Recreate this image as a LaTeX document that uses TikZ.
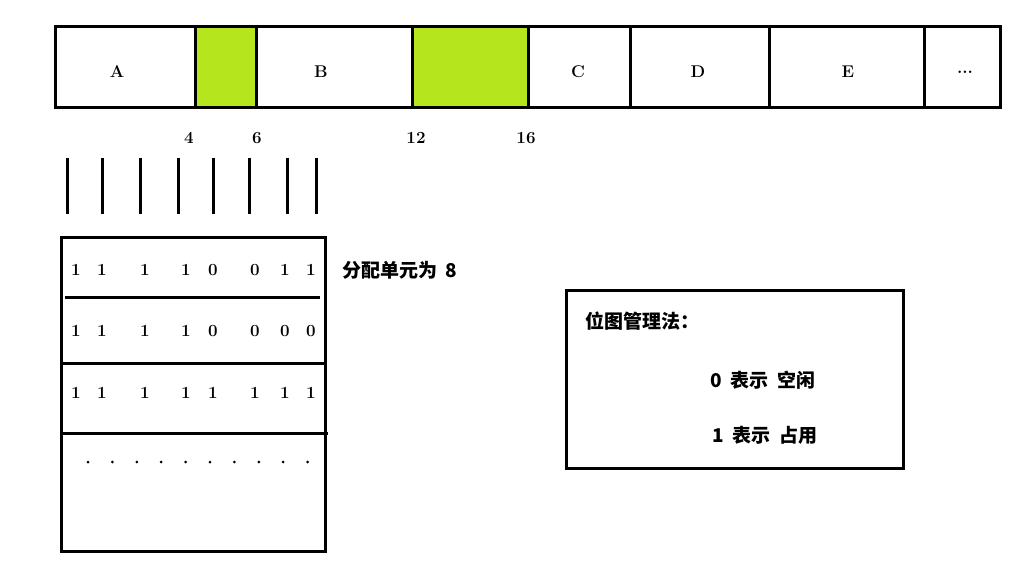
\documentclass[tikz,border=0pt]{standalone}
\usepackage{fontspec}
\newfontfamily\cjk{Noto Sans CJK SC}
\definecolor{limefill}{RGB}{181,230,29}
\tikzset{
  cell/.style={line width=3pt},
  bit/.style={font=\bfseries\fontsize{17}{20}\selectfont, inner sep=0pt},
  tag/.style={font=\cjk\bfseries\fontsize{19}{22}\selectfont, inner sep=0pt}
}
\begin{document}
\begin{tikzpicture}[x=1pt,y=-1pt]
\useasboundingbox (0,0) rectangle (1036,575);
% top bar
\fill[limefill] (195,27) rectangle (256,108);
\fill[limefill] (412,27) rectangle (528,108);
\draw[cell] (55,27) rectangle (1000,108);
\foreach \x in {195,256,412,528,630,769,924}
  \draw[cell] (\x,27) -- (\x,108);
\foreach \t/\x in {A/117,B/321,C/578,D/698,E/848,{...}/965}
  \node[bit] (seg\t) at (\x,72) {\t};
\foreach \t/\x in {4/189,6/257,12/416,16/526}
  \node[bit] (num\t) at (\x,138) {\t};
% ticks
\foreach \x in {67,102,140,178,213,249,287,316}
  \draw[cell] (\x,158) -- (\x,214);
% bitmap table
\draw[cell] (61,237) rectangle (325,551);
\draw[cell] (65,297) -- (320,297);
\draw[cell] (61,363) -- (325,363);
\draw[cell] (61,433) -- (328,433);
\foreach \b [count=\i] in {1,1,1,1,0,0,1,1}
  \node[bit] (ra\i) at ({\ifcase\i\or76\or102\or145\or186\or213\or255\or285\or311\fi},270) {\b};
\foreach \b [count=\i] in {1,1,1,1,0,0,0,0}
  \node[bit] (rb\i) at ({\ifcase\i\or76\or102\or145\or186\or213\or255\or285\or311\fi},331) {\b};
\foreach \b [count=\i] in {1,1,1,1,1,1,1,1}
  \node[bit] (rc\i) at ({\ifcase\i\or76\or102\or145\or186\or213\or255\or285\or311\fi},393) {\b};
\foreach \i in {0,...,9}
  \fill (88+\i*24.4,462) circle (1.5);
\node[tag, anchor=west] (unit) at (342,270) {分配单元为\ \ 8};
% legend
\draw[cell] (566,290) rectangle (903,468);
\node[tag, anchor=west] (legend) at (585,321) {位图管理法：};
\node[tag, anchor=west] (free) at (710,380) {0\ \ 表示\ \ 空闲};
\node[tag, anchor=west] (used) at (712,435) {1\ \ 表示\ \ 占用};
\end{tikzpicture}
\end{document}
